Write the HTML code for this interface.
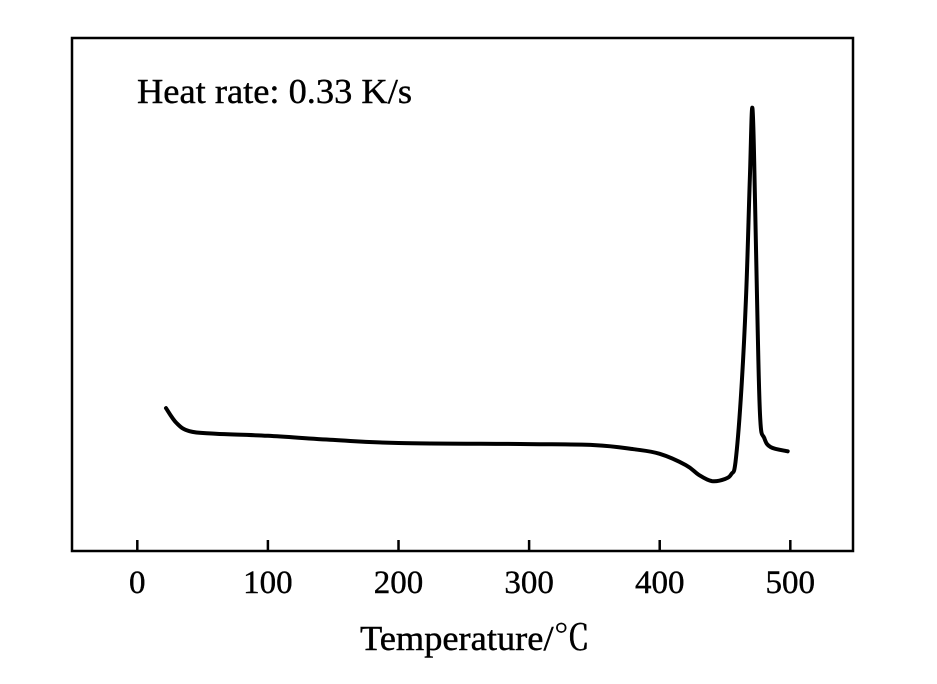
<!DOCTYPE html>
<html><head><meta charset="utf-8"><style>
html,body{margin:0;padding:0;background:#fff;}
svg{display:block;}
text{font-family:"Liberation Serif","Noto Serif CJK SC",serif;fill:#000;}
</style></head><body>
<svg id="chart" width="937" height="684">
<rect x="72" y="38" width="781" height="513" fill="none" stroke="#000" stroke-width="2.5"/>
<g id="ticks"></g>
<path id="curve" fill="none" stroke="#000" stroke-width="4" stroke-linejoin="round" stroke-linecap="round"/>
<text x="137" y="103" font-size="35" textLength="275" lengthAdjust="spacingAndGlyphs" stroke="#000" stroke-width="0.4">Heat rate: 0.33 K/s</text>
<text x="475" y="650" font-size="35" text-anchor="middle" textLength="230" lengthAdjust="spacingAndGlyphs" stroke="#000" stroke-width="0.4">Temperature/℃</text>
</svg>
<script>
const temps=[22,30,40,60,100,150,200,300,350,380,400,420,430,440,450,455,458,462,466,469,471,473,475,477,480,485,498];
const signal=[28.0,25.1,23.5,23.0,22.6,21.8,21.2,21.0,20.8,20.0,19.1,16.9,15.0,13.8,14.2,15.2,17.5,29.6,49.0,72.4,86.4,68.5,43.2,25.7,22.2,20.4,19.6];
const xTicks=[0,100,200,300,400,500];
const xMin=-50,xMax=548,yMin=0,yMax=100;
const L=72,R=853,T=38,B=552;
function xs(v){return L+(v-xMin)/(xMax-xMin)*(R-L);}
function ys(v){return B-(v-yMin)/(yMax-yMin)*(B-T);}
const ns="http://www.w3.org/2000/svg";
const g=document.getElementById('ticks');
xTicks.forEach(t=>{
 const l=document.createElementNS(ns,'line');
 l.setAttribute('x1',xs(t));l.setAttribute('x2',xs(t));
 l.setAttribute('y1',B);l.setAttribute('y2',B-12);
 l.setAttribute('stroke','#000');l.setAttribute('stroke-width','2.5');
 
 
 g.appendChild(l);
 const tx=document.createElementNS(ns,'text');
 tx.setAttribute('x',xs(t));tx.setAttribute('y',593);
 tx.setAttribute('font-size','33');tx.setAttribute('text-anchor','middle');
 tx.setAttribute('stroke','#000');tx.setAttribute('stroke-width','0.4');
 tx.textContent=t;
 
 
 g.appendChild(tx);
});
const P=temps.map((t,i)=>[xs(t),ys(signal[i])]);
let d='M'+P[0][0].toFixed(1)+' '+P[0][1].toFixed(1);
for(let i=0;i<P.length-1;i++){
 const p0=P[Math.max(0,i-1)],p1=P[i],p2=P[i+1],p3=P[Math.min(P.length-1,i+2)];
 const k=0.18;
 const c1=[p1[0]+(p2[0]-p0[0])*k,p1[1]+(p2[1]-p0[1])*k];
 const c2=[p2[0]-(p3[0]-p1[0])*k,p2[1]-(p3[1]-p1[1])*k];
 d+='C'+c1.map(v=>v.toFixed(1)).join(' ')+' '+c2.map(v=>v.toFixed(1)).join(' ')+' '+p2[0].toFixed(1)+' '+p2[1].toFixed(1);
}
document.getElementById('curve').setAttribute('d',d);
</script>
</body></html>
